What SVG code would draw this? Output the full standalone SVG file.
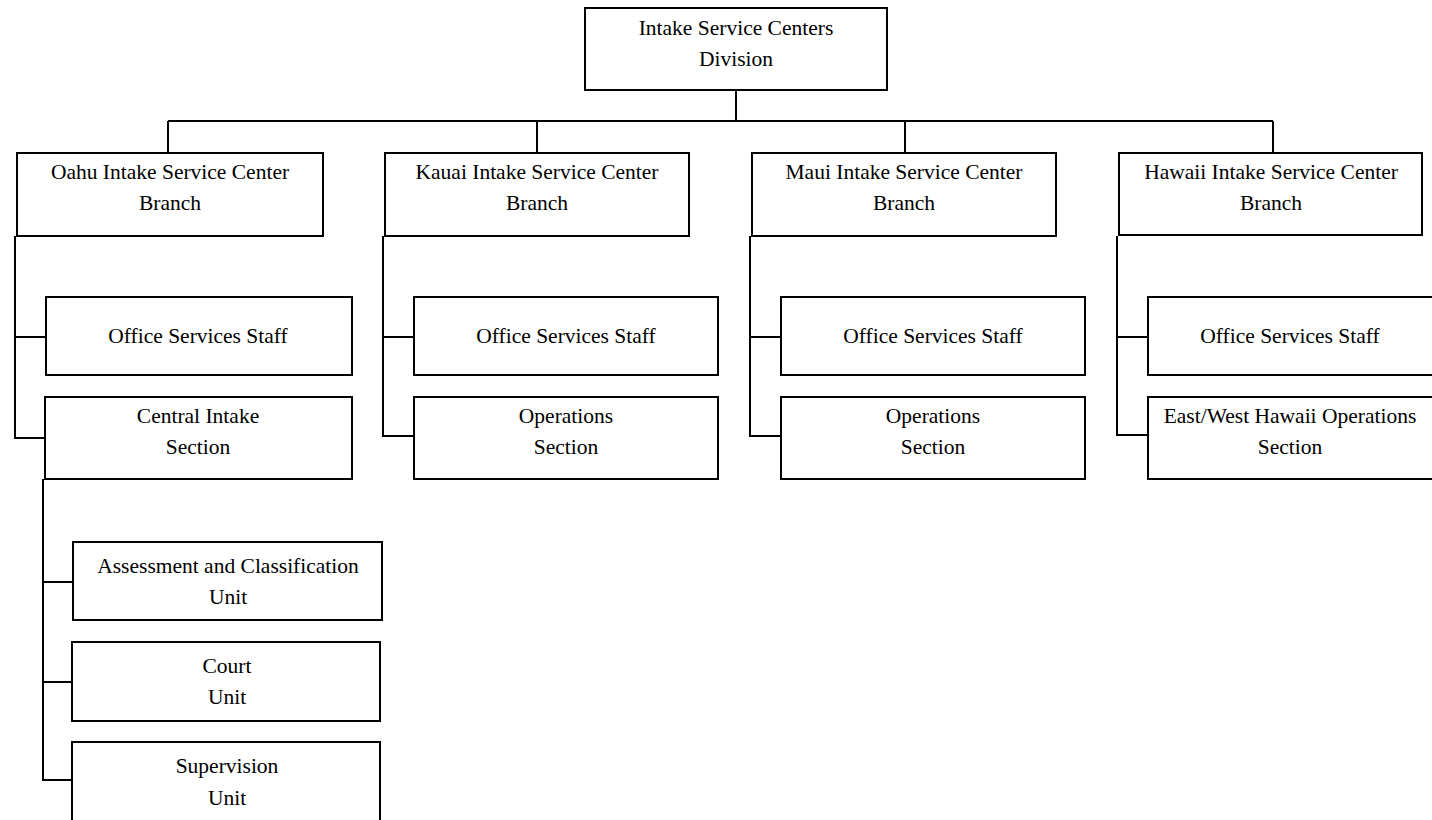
<svg xmlns="http://www.w3.org/2000/svg" width="1432" height="820" viewBox="0 0 1432 820">
<style>
rect{fill:#fff;stroke:#000;stroke-width:2}
text{font-family:"Liberation Serif","Times New Roman",serif;font-size:21.5px;fill:#000;text-anchor:middle}
.c{fill:none;stroke:#000;stroke-width:2}
</style>
<rect x="0" y="0" width="1432" height="820" style="stroke:none"/>
<g id="connectors">
<path class="c" d="M736 90V121M168 121H1273M168 121V153M537 121V153M905 121V153M1273 121V153"/>
<path class="c" d="M15 236V438H45M15 337H46"/>
<path class="c" d="M43 479V780H72M43 582H73M43 682H72"/>
<path class="c" d="M383 236V436H414M383 337H414"/>
<path class="c" d="M750 236V436H781M750 337H781"/>
<path class="c" d="M1117 236V435H1148M1117 337H1148"/>
</g>
<g id="division"><rect x="585" y="8" width="302" height="82"/><text x="736" y="35">Intake Service Centers</text><text x="736" y="66">Division</text></g>
<g id="oahu"><rect x="17" y="153" width="306" height="83"/><text x="170" y="179">Oahu Intake Service Center</text><text x="170" y="210">Branch</text></g>
<g id="kauai"><rect x="385" y="153" width="304" height="83"/><text x="537" y="179">Kauai Intake Service Center</text><text x="537" y="210">Branch</text></g>
<g id="maui"><rect x="752" y="153" width="304" height="83"/><text x="904" y="179">Maui Intake Service Center</text><text x="904" y="210">Branch</text></g>
<g id="hawaii"><rect x="1119" y="153" width="303" height="82"/><text x="1271" y="179">Hawaii Intake Service Center</text><text x="1271" y="210">Branch</text></g>
<g id="oahu-office"><rect x="46" y="297" width="306" height="78"/><text x="198" y="343">Office Services Staff</text></g>
<g id="central-intake"><rect x="45" y="397" width="307" height="82"/><text x="198" y="423">Central Intake</text><text x="198" y="454">Section</text></g>
<g id="assessment"><rect x="73" y="542" width="309" height="78"/><text x="228" y="573">Assessment and Classification</text><text x="228" y="604">Unit</text></g>
<g id="court"><rect x="72" y="642" width="308" height="79"/><text x="227" y="673">Court</text><text x="227" y="704">Unit</text></g>
<g id="supervision"><rect x="72" y="742" width="308" height="80"/><text x="227" y="773">Supervision</text><text x="227" y="805">Unit</text></g>
<g id="kauai-office"><rect x="414" y="297" width="304" height="78"/><text x="566" y="343">Office Services Staff</text></g>
<g id="kauai-ops"><rect x="414" y="397" width="304" height="82"/><text x="566" y="423">Operations</text><text x="566" y="454">Section</text></g>
<g id="maui-office"><rect x="781" y="297" width="304" height="78"/><text x="933" y="343">Office Services Staff</text></g>
<g id="maui-ops"><rect x="781" y="397" width="304" height="82"/><text x="933" y="423">Operations</text><text x="933" y="454">Section</text></g>
<g id="hawaii-office"><rect x="1148" y="297" width="304" height="78"/><text x="1290" y="343">Office Services Staff</text></g>
<g id="hawaii-ops"><rect x="1148" y="397" width="304" height="82"/><text x="1290" y="423">East/West Hawaii Operations</text><text x="1290" y="454">Section</text></g>
</svg>
